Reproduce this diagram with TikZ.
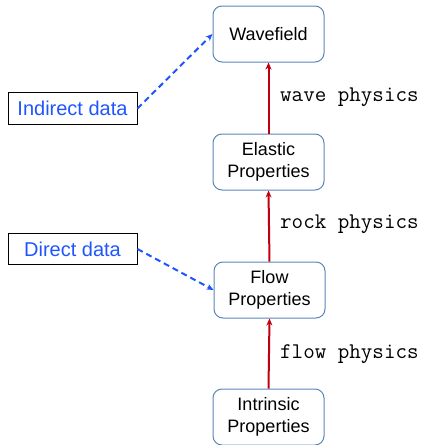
\documentclass[tikz,border=0pt]{standalone}
\usepackage{fontspec}
\setmainfont{Liberation Sans}
\usetikzlibrary{arrows.meta}
\definecolor{boxborder}{HTML}{5B86B8}
\definecolor{physred}{HTML}{C00010}
\definecolor{datablue}{HTML}{1F55FF}
\tikzset{
  propbox/.style={draw=boxborder, line width=1pt, rounded corners=9pt, minimum width=111pt, minimum height=56pt, inner sep=0pt, align=center, font=\fontsize{18}{21.5}\selectfont},
  databox/.style={draw=black, line width=0.9pt, minimum width=129pt, minimum height=31.5pt, inner sep=0pt, text=datablue, font=\fontsize{20}{24}\selectfont},
  physarrow/.style={draw=physred, line width=2pt, -{Stealth[length=7pt,width=6pt]}},
  dataarrow/.style={draw=datablue, line width=2pt, dash pattern=on 6pt off 4pt, -{Stealth[length=7pt,width=6pt]}},
  physlabel/.style={anchor=west, inner sep=0pt, font=\ttfamily\fontsize{22.4}{26}\selectfont}
}
\begin{document}
\begin{tikzpicture}[x=1pt,y=1pt]
\useasboundingbox (0,0) rectangle (428,-445);
\node[propbox] (wave) at (268.5,-34) {Wavefield};
\node[propbox] (elastic) at (268.5,-162) {Elastic\\Properties};
\node[propbox] (flow) at (269.5,-290) {Flow\\Properties};
\node[propbox] (intr) at (268.5,-417) {Intrinsic\\Properties};
\node[databox] (indirect) at (72.5,-108.5) {Indirect data};
\node[databox] (direct) at (72.5,-249) {Direct data};
\draw[physarrow] (elastic.north) -- (wave.south);
\draw[physarrow] (flow.north) -- (elastic.south);
\draw[physarrow] (intr.north) -- (flow.south);
\node[physlabel] (lw) at (280,-97) {wave physics};
\node[physlabel] (lr) at (280,-224) {rock physics};
\node[physlabel] (lf) at (280,-354) {flow physics};
\draw[dataarrow] (indirect.east) -- (wave.west);
\draw[dataarrow] (direct.east) -- (flow.west);
\end{tikzpicture}
\end{document}
